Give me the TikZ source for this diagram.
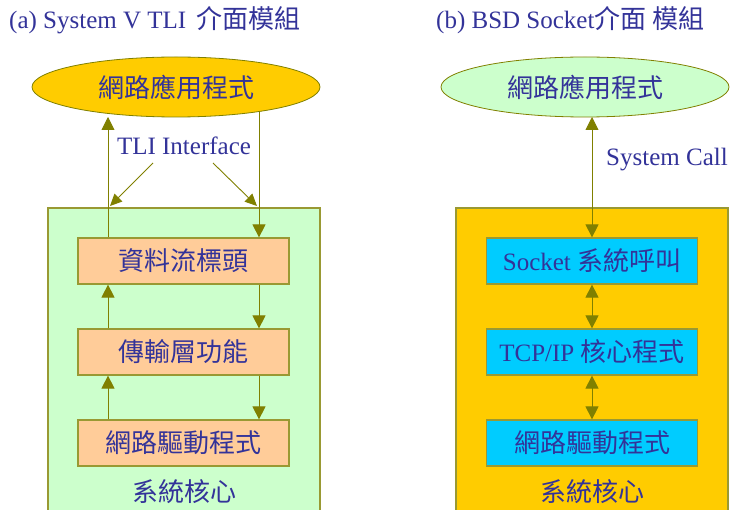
\documentclass[tikz,border=0pt]{standalone}
\usepackage{fontspec}
\setmainfont{Liberation Serif}
\newfontfamily\cjk{Noto Sans CJK TC}[Scale=1.04]
\usetikzlibrary{shapes.geometric,arrows.meta}

\definecolor{inkblue}{RGB}{51,51,153}
\definecolor{olive}{RGB}{128,128,0}
\definecolor{edgeolive}{RGB}{153,153,51}
\definecolor{gold}{RGB}{255,204,0}
\definecolor{mint}{RGB}{204,255,204}
\definecolor{peach}{RGB}{255,204,153}
\definecolor{sky}{RGB}{0,204,255}

\tikzset{
  x=1pt, y=-1pt,
  every node/.style={text=inkblue, font=\fontsize{25}{30}\selectfont, inner sep=0pt},
  app/.style={ellipse, draw=olive, line width=0.8pt, minimum width=288pt, minimum height=60pt},
  kernel/.style={draw=edgeolive, line width=1.2pt},
  layer/.style={rectangle, draw=edgeolive, line width=1.2pt, minimum width=211pt, minimum height=46pt},
  tip/.style={Triangle[length=13pt,width=13pt]},
  flow/.style={draw=olive, line width=0.9pt, -{Triangle[length=13pt,width=13pt]}},
  flowboth/.style={draw=olive, line width=0.9pt, {Triangle[length=13pt,width=13pt]}-{Triangle[length=13pt,width=13pt]}},
  pointer/.style={draw=olive, line width=0.9pt, -{Triangle[length=12pt,width=11pt]}},
}

\begin{document}
\begin{tikzpicture}
\clip (0,0) rectangle (730,510);
\fill[white] (0,0) rectangle (730,510);

% ---------- (a) System V TLI ----------
\node[anchor=west] (titleA) at (9,20) {(a) System V TLI\hspace{4pt} {\cjk 介面模組}};

\fill[mint] (48,208) rectangle (320,530);
\draw[kernel] (48,530) -- (48,208) -- (320,208) -- (320,530);
\node (kerA) at (184,492) {\cjk 系統核心};

\node[app, fill=gold] (appA) at (176,87) {\cjk 網路應用程式};

\node[layer, fill=peach] (strA) at (183.5,261) {\cjk 資料流標頭};
\node[layer, fill=peach] (tpA)  at (183.5,352) {\cjk 傳輸層功能};
\node[layer, fill=peach] (drvA) at (183.5,443) {\cjk 網路驅動程式};

\node (tli) at (184,146) {TLI Interface};

% upward path on the left, downward path on the right
\coordinate (upTop)   at (108,117);
\coordinate (upBase)  at (108,208);
\coordinate (dnTop)   at (259,111.5);
\coordinate (dnBase)  at (259,208);
\draw[flow] (strA.north -| upBase) -- (upTop);
\draw[flow] (dnTop) -- (strA.north -| dnTop);
\draw[flow] (tpA.north -| upBase) -- (strA.south -| upBase);
\draw[flow] (drvA.north -| upBase) -- (tpA.south -| upBase);
\draw[flow] (strA.south -| dnTop) -- (tpA.north -| dnTop);
\draw[flow] (tpA.south -| dnTop) -- (drvA.north -| dnTop);

% interface pointers
\coordinate (tliL) at (153,163);
\coordinate (tliR) at (213,163);
\coordinate (tliLend) at (110,206);
\coordinate (tliRend) at (257,206);
\draw[pointer] (tliL) -- (tliLend);
\draw[pointer] (tliR) -- (tliRend);

% ---------- (b) BSD Socket ----------
\node[anchor=west] (titleB) at (436,20) {(b) BSD Socket{\cjk 介面} {\cjk 模組}};

\fill[gold] (456,208) rectangle (728,530);
\draw[kernel] (456,530) -- (456,208) -- (728,208) -- (728,530);
\node (kerB) at (592,492) {\cjk 系統核心};

\node[app, fill=mint] (appB) at (585,87) {\cjk 網路應用程式};

\node[layer, fill=sky] (sockB) at (592,261) {Socket {\cjk 系統呼叫}};
\node[layer, fill=sky] (tcpB)  at (592,352) {TCP/IP {\cjk 核心程式}};
\node[layer, fill=sky] (drvB)  at (592,443) {\cjk 網路驅動程式};

\node[anchor=west] (sysc) at (606,160) {System Call};

\coordinate (callTop) at (592,117);
\draw[flowboth] (callTop) -- (sockB.north);
\draw[flowboth] (sockB.south) -- (tcpB.north);
\draw[flowboth] (tcpB.south) -- (drvB.north);
\end{tikzpicture}
\end{document}
